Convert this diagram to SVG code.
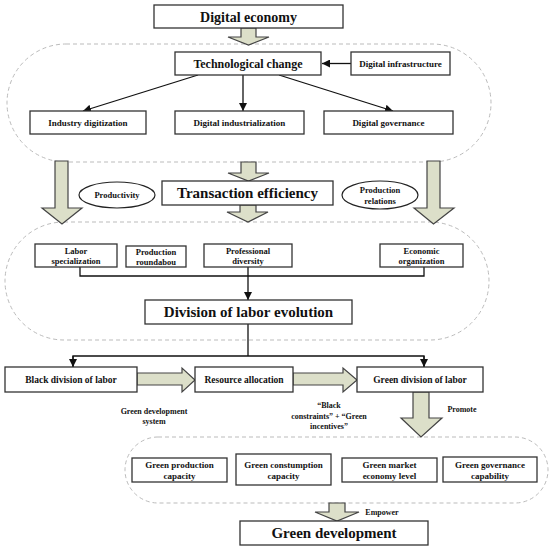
<svg xmlns="http://www.w3.org/2000/svg" width="549" height="550" viewBox="0 0 549 550" font-family="'Liberation Serif', 'Times New Roman', serif">
<defs>
<style>
text{font-family:"Liberation Serif","Times New Roman",serif;font-weight:bold;fill:#111;text-anchor:middle;dominant-baseline:central}
.box{fill:#fff;stroke:#333;stroke-width:1.3}
.pill{fill:none;stroke:#bbb;stroke-width:1;stroke-dasharray:4 3}
.ha{fill:#dcdfc9;stroke:#444;stroke-width:1.2;stroke-linejoin:miter}
.ln{fill:none;stroke:#111;stroke-width:1.3}
.s9{font-size:9px}
.s85{font-size:8.5px}
.s8{font-size:8px}
.big{font-size:15px}
</style>
<marker id="ah" viewBox="0 0 10 10" refX="10" refY="5" markerWidth="8" markerHeight="8" markerUnits="userSpaceOnUse" orient="auto">
<path d="M0,0 L10,5 L0,10 z" fill="#111"/>
</marker>
</defs>
<rect width="549" height="550" fill="#fff"/>

<g id="pills">
<rect class="pill" x="7" y="44" width="484" height="118" rx="59" ry="59"/>
<rect class="pill" x="5" y="222" width="484" height="118" rx="59" ry="59"/>
<rect class="pill" x="125" y="437" width="423" height="66" rx="33" ry="33"/>
</g>

<g id="hollow-arrows">
<path class="ha" d="M241,28 H256 V37 H269 L248.5,45 L228,37 H241 Z"/>
<path class="ha" d="M241,162 H256 V173 H269 L248.5,181 L228,173 H241 Z"/>
<path class="ha" d="M240,205 H256 V212 H268 L248,222 L227,212 H240 Z"/>
<path class="ha" d="M55,161 H68 V208 H82 L62,224 L42,208 H55 Z"/>
<path class="ha" d="M427,161 H440 V208 H454 L433.5,224 L414,208 H427 Z"/>
<path class="ha" d="M137,373 H182 V368 L195,380 L182,392 V385 H137 Z"/>
<path class="ha" d="M293,373 H343 V368 L357,380 L343,392 V385 H293 Z"/>
<path class="ha" d="M413,392 H429 V418 H442 L421,437 L401,418 H413 Z"/>
<path class="ha" d="M329,503 H345 V512 H359 L337,521 L315,512 H329 Z"/>
</g>

<g id="connectors">
<line class="ln" x1="351" y1="63.5" x2="322" y2="63.5" marker-end="url(#ah)"/>
<line class="ln" x1="198" y1="75" x2="83" y2="111" marker-end="url(#ah)"/>
<line class="ln" x1="243" y1="75" x2="243" y2="111" marker-end="url(#ah)"/>
<line class="ln" x1="279" y1="75" x2="393" y2="111" marker-end="url(#ah)"/>
<polyline class="ln" points="80,267 80,276 424,276 424,267"/>
<line class="ln" x1="248" y1="267" x2="248" y2="300" marker-end="url(#ah)"/>
<line class="ln" x1="248" y1="324" x2="248" y2="356"/>
<polyline class="ln" points="73,367 73,356 424,356 424,367"/>
<line class="ln" x1="73" y1="356" x2="73" y2="367" marker-end="url(#ah)"/>
<line class="ln" x1="424" y1="356" x2="424" y2="367" marker-end="url(#ah)"/>
</g>

<g id="n-digital-economy"><rect class="box" x="154" y="5" width="189" height="23"/><text x="248.5" y="17" style="font-size:14px">Digital economy</text></g>
<g id="n-tech-change"><rect class="box" x="175" y="52" width="146" height="23"/><text x="248" y="64" style="font-size:12px">Technological change</text></g>
<g id="n-digital-infra"><rect class="box" x="351" y="52" width="99" height="23"/><text x="400.5" y="64" class="s9">Digital infrastructure</text></g>
<g id="n-industry-digitization"><rect class="box" x="30" y="111" width="116" height="23"/><text x="88" y="123" class="s9">Industry digitization</text></g>
<g id="n-digital-industrialization"><rect class="box" x="175" y="111" width="129" height="23"/><text x="239.5" y="123" class="s9">Digital industrialization</text></g>
<g id="n-digital-governance"><rect class="box" x="324" y="111" width="129" height="23"/><text x="388.5" y="123" class="s9">Digital governance</text></g>

<g id="n-productivity"><ellipse cx="117" cy="195" rx="38" ry="13" fill="#fff" stroke="#222" stroke-width="1.2"/><text x="117" y="195" class="s85">Productivity</text></g>
<g id="n-production-relations"><ellipse cx="380" cy="195" rx="38" ry="14" fill="#fff" stroke="#222" stroke-width="1.2"/><text x="380" y="190" class="s85">Production</text><text x="380" y="201" class="s85">relations</text></g>
<g id="n-transaction"><rect class="box" x="162" y="181" width="171" height="24"/><text x="247.5" y="193" class="big">Transaction efficiency</text></g>

<g id="n-labor-spec"><rect class="box" x="35" y="244" width="82" height="23"/><text x="76" y="250.5" class="s85">Labor</text><text x="76" y="261" class="s85">specialization</text></g>
<g id="n-prod-round"><rect class="box" x="126" y="246" width="60" height="21"/><text x="156" y="252" class="s85">Production</text><text x="156" y="262" class="s85">roundabou</text></g>
<g id="n-prof-div"><rect class="box" x="204" y="244" width="88" height="23"/><text x="248" y="250.5" class="s85">Professional</text><text x="248" y="261" class="s85">diversity</text></g>
<g id="n-econ-org"><rect class="box" x="380" y="244" width="83" height="23"/><text x="421.5" y="250.5" class="s85">Economic</text><text x="421.5" y="261" class="s85">organization</text></g>
<g id="n-division"><rect class="box" x="145" y="300" width="207" height="24"/><text x="248.5" y="312" class="big">Division of labor evolution</text></g>

<g id="n-black-div"><rect class="box" x="5" y="367" width="132" height="25"/><text x="71" y="380" style="font-size:9.5px">Black division of labor</text></g>
<g id="n-resource"><rect class="box" x="195" y="367" width="98" height="25"/><text x="244" y="380" style="font-size:9.5px">Resource allocation</text></g>
<g id="n-green-div"><rect class="box" x="357" y="367" width="126" height="25"/><text x="420" y="380" style="font-size:9.5px">Green division of labor</text></g>

<g id="labels">
<text x="154" y="411" class="s8">Green development</text>
<text x="154" y="421" class="s8">system</text>
<text x="329" y="405" class="s8">“Black</text>
<text x="329" y="416" class="s8">constraints” + “Green</text>
<text x="329" y="426" class="s8">incentives”</text>
<text x="462" y="409" class="s8">Promote</text>
<text x="382" y="512" class="s8">Empower</text>
</g>

<g id="n-green-prod"><rect class="box" x="132" y="458" width="95" height="24"/><text x="179.5" y="465" class="s9">Green production</text><text x="179.5" y="476" class="s9">capacity</text></g>
<g id="n-green-cons"><rect class="box" x="236" y="454" width="95" height="31"/><text x="283.5" y="465" class="s9">Green constumption</text><text x="283.5" y="476" class="s9">capacity</text></g>
<g id="n-green-market"><rect class="box" x="342" y="458" width="95" height="24"/><text x="389.5" y="465" class="s9">Green market</text><text x="389.5" y="476" class="s9">economy level</text></g>
<g id="n-green-gov"><rect class="box" x="443" y="457" width="94" height="25"/><text x="490" y="465" class="s9">Green governance</text><text x="490" y="476" class="s9">capability</text></g>

<g id="n-green-development"><rect class="box" x="240" y="521" width="188" height="24"/><text x="334" y="533" class="big">Green development</text></g>
</svg>
